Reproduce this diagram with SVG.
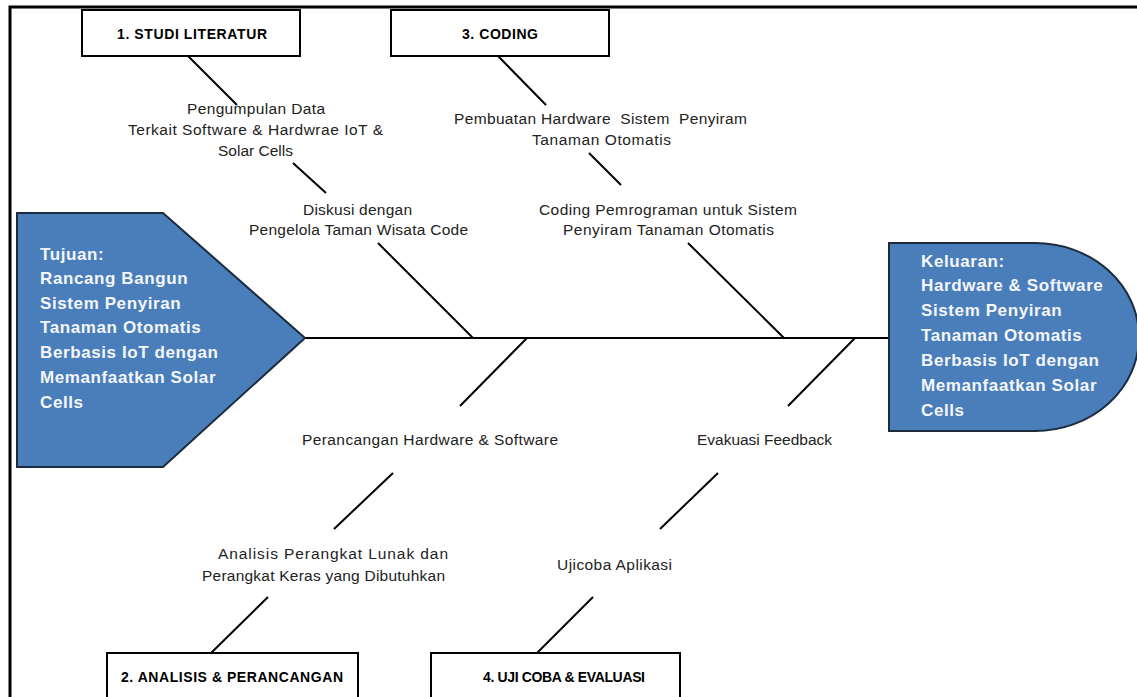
<svg xmlns="http://www.w3.org/2000/svg" width="1137" height="697" viewBox="0 0 1137 697">
  <style>
    .frame { fill: none; stroke: #000; stroke-width: 3; }
    .box { fill: #fff; stroke: #000; stroke-width: 2; }
    .head { fill: #4a7ebb; stroke: #1c2b3d; stroke-width: 2; }
    .bone { stroke: #000; stroke-width: 2; fill: none; }
    .lbl { font-family: "Liberation Sans", Arial, sans-serif; font-size: 14px; font-weight: bold; fill: #000; text-anchor: middle; }
    .txt { font-family: "Liberation Sans", Arial, sans-serif; font-size: 15.5px; fill: #222; }
    .head-txt { font-family: "Liberation Sans", Arial, sans-serif; font-size: 17px; font-weight: bold; fill: #f4f6fa; letter-spacing: 0.6px; }
  </style>
  <rect width="1137" height="697" fill="#fff"/>
  <!-- outer frame -->
  <path class="frame" d="M10,700 V7 H1137"/>

  <!-- fishbone connectors -->
  <g id="connectors">
    <line class="bone" x1="305" y1="338" x2="889" y2="338"/>
    <!-- upper bones: studi literatur -->
    <line class="bone" x1="188" y1="56" x2="237" y2="105"/>
    <line class="bone" x1="293" y1="163" x2="326" y2="193"/>
    <line class="bone" x1="378" y1="243" x2="473" y2="338"/>
    <!-- upper bones: coding -->
    <line class="bone" x1="498" y1="56" x2="546" y2="105"/>
    <line class="bone" x1="589" y1="153" x2="621" y2="185"/>
    <line class="bone" x1="688" y1="243" x2="784" y2="338"/>
    <!-- lower bones: analisis -->
    <line class="bone" x1="527" y1="338" x2="460" y2="406"/>
    <line class="bone" x1="393" y1="473" x2="334" y2="529"/>
    <line class="bone" x1="268" y1="597" x2="211" y2="653"/>
    <!-- lower bones: uji coba -->
    <line class="bone" x1="855" y1="338" x2="788" y2="406"/>
    <line class="bone" x1="718" y1="473" x2="660" y2="529"/>
    <line class="bone" x1="593" y1="597" x2="537" y2="653"/>
  </g>

  <g id="tujuan">
    <polygon class="head" points="17,213 163,213 305,338 163,467 17,467"/>
    <text class="head-txt" x="40" y="260">Tujuan:</text>
    <text class="head-txt" x="40" y="284">Rancang Bangun</text>
    <text class="head-txt" x="40" y="309">Sistem Penyiran</text>
    <text class="head-txt" x="40" y="333">Tanaman Otomatis</text>
    <text class="head-txt" x="40" y="358">Berbasis IoT dengan</text>
    <text class="head-txt" x="40" y="383">Memanfaatkan Solar</text>
    <text class="head-txt" x="40" y="408">Cells</text>
  </g>

  <g id="keluaran">
    <path class="head" d="M889,243 H1035 A104,94 0 0 1 1035,431 H889 Z"/>
    <text class="head-txt" x="921" y="267">Keluaran:</text>
    <text class="head-txt" x="921" y="291">Hardware &amp; Software</text>
    <text class="head-txt" x="921" y="316">Sistem Penyiran</text>
    <text class="head-txt" x="921" y="341">Tanaman Otomatis</text>
    <text class="head-txt" x="921" y="366">Berbasis IoT dengan</text>
    <text class="head-txt" x="921" y="391">Memanfaatkan Solar</text>
    <text class="head-txt" x="921" y="416">Cells</text>
  </g>

  <g id="studi-literatur">
    <rect class="box" x="82" y="10" width="218" height="46"/>
    <text class="lbl" x="192" y="39" textLength="150">1. STUDI LITERATUR</text>
    <text class="txt" x="187" y="114" textLength="138">Pengumpulan Data</text>
    <text class="txt" x="128" y="135" textLength="255">Terkait Software &amp; Hardwrae IoT &amp;</text>
    <text class="txt" x="218" y="156" textLength="75">Solar Cells</text>
    <text class="txt" x="303" y="215" textLength="109">Diskusi dengan</text>
    <text class="txt" x="249" y="235" textLength="219">Pengelola Taman Wisata Code</text>
  </g>

  <g id="coding">
    <rect class="box" x="391" y="10" width="218" height="46"/>
    <text class="lbl" x="500" y="39" textLength="76">3. CODING</text>
    <text class="txt" x="454" y="124" textLength="293" xml:space="preserve">Pembuatan Hardware  Sistem  Penyiram</text>
    <text class="txt" x="532" y="145" textLength="139">Tanaman Otomatis</text>
    <text class="txt" x="539" y="215" textLength="258">Coding Pemrograman untuk Sistem</text>
    <text class="txt" x="563" y="235" textLength="211">Penyiram Tanaman Otomatis</text>
  </g>

  <g id="analisis-perancangan">
    <rect class="box" x="107" y="653" width="251" height="60"/>
    <text class="lbl" x="232" y="682" textLength="222">2. ANALISIS &amp; PERANCANGAN</text>
    <text class="txt" x="302" y="445" textLength="256">Perancangan Hardware &amp; Software</text>
    <text class="txt" x="218" y="559" textLength="230">Analisis Perangkat Lunak dan</text>
    <text class="txt" x="202" y="581" textLength="243">Perangkat Keras yang Dibutuhkan</text>
  </g>

  <g id="uji-coba-evaluasi">
    <rect class="box" x="431" y="653" width="249" height="60"/>
    <text class="lbl" x="564" y="682" textLength="162">4. UJI COBA &amp; EVALUASI</text>
    <text class="txt" x="697" y="445" textLength="135">Evakuasi Feedback</text>
    <text class="txt" x="557" y="570" textLength="115">Ujicoba Aplikasi</text>
  </g>
</svg>
